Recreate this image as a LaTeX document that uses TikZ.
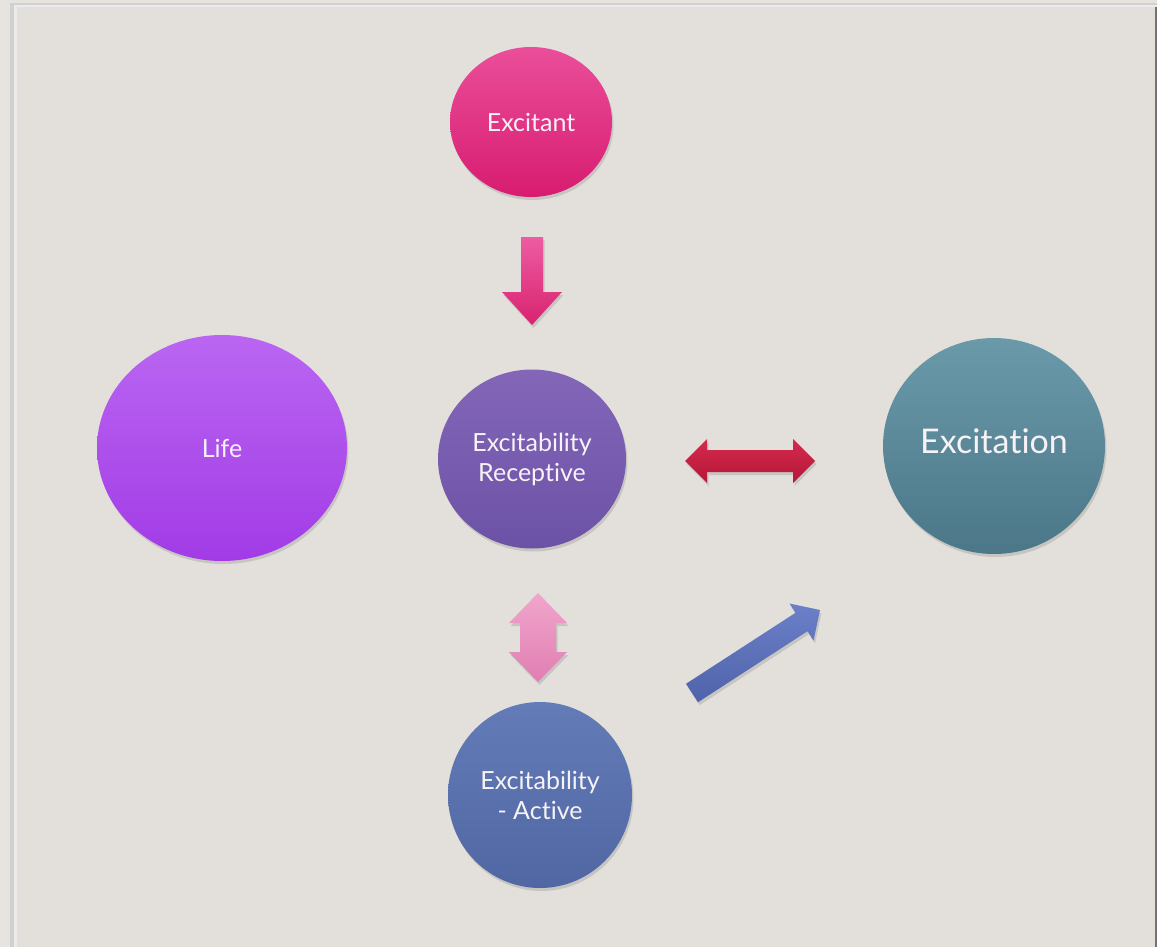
\documentclass[tikz,border=0pt]{standalone}
\usepackage{fontspec}
\setmainfont{Lato}[Ligatures={NoCommon}]
\usetikzlibrary{shapes.geometric,shadows}
\definecolor{outerbg}{HTML}{E7E4E0}
\definecolor{panelbg}{HTML}{E3E0DC}
\definecolor{excitantA}{HTML}{EA4E9A}
\definecolor{excitantB}{HTML}{D81C70}
\definecolor{lifeA}{HTML}{BA66F2}
\definecolor{lifeB}{HTML}{A23BE6}
\definecolor{recA}{HTML}{8366B8}
\definecolor{recB}{HTML}{6C52A6}
\definecolor{exctA}{HTML}{6A9AAA}
\definecolor{exctB}{HTML}{4B7788}
\definecolor{actA}{HTML}{637BB6}
\definecolor{actB}{HTML}{5067A3}
\definecolor{downA}{HTML}{EE5CA2}
\definecolor{downB}{HTML}{D8236F}
\definecolor{redA}{HTML}{D42A4C}
\definecolor{redB}{HTML}{B51638}
\definecolor{pinkA}{HTML}{F0A6CC}
\definecolor{pinkB}{HTML}{E07EB2}
\definecolor{blueA}{HTML}{6B80C8}
\definecolor{blueB}{HTML}{4F63AA}
\definecolor{txt}{HTML}{F6F2F6}
\tikzset{
  bubble/.style={ellipse, inner sep=0pt, text=txt, align=center,
    font=\fontsize{25}{30}\selectfont,
    drop shadow={shadow xshift=1.5pt, shadow yshift=-3pt, opacity=0.28}},
  blockarrow/.style={drop shadow={shadow xshift=1.5pt, shadow yshift=-3pt, opacity=0.28}},
}
\begin{document}
\begin{tikzpicture}[x=1pt,y=-1pt]
\useasboundingbox (0,0) rectangle (1157,947);
% background
\fill[outerbg] (0,0) rectangle (1157,947);
\fill[black!18] (10,3) rectangle (1157,947);
\fill[black!8] (14,5) rectangle (1157,947);
\fill[panelbg] (17,7) rectangle (1155,947);
\fill[black!55] (1155,7) rectangle (1157,947);

% nodes
\node[bubble, top color=excitantA, bottom color=excitantB,
  minimum width=162pt, minimum height=150pt] (excitant) at (531,122) {Excitant};
\node[bubble, top color=lifeA, bottom color=lifeB,
  minimum width=250pt, minimum height=226pt] (life) at (222,448) {Life};
\node[bubble, top color=recA, bottom color=recB,
  minimum width=188pt, minimum height=179pt] (receptive) at (532,459) {Excitability\\Receptive};
\node[bubble, top color=exctA, bottom color=exctB,
  minimum width=222pt, minimum height=216pt] (excitation) at (994,446) {};
\node[text=txt, font=\fontsize{34}{40}\selectfont] (excitationlabel) at (994,441) {Excitation};
\node[bubble, top color=actA, bottom color=actB,
  minimum width=184pt, minimum height=186pt] (active) at (540,795) {Excitability\\- Active};

% down arrow Excitant -> Receptive
\path[blockarrow, top color=downA, bottom color=downB]
  (521,237) -- (543,237) -- (543,292) -- (562,292) -- (532,325)
  -- (502,292) -- (521,292) -- cycle;

% red double arrow Receptive <-> Excitation
\path[blockarrow, top color=redA, bottom color=redB]
  (685,461) -- (707,439) -- (707,450) -- (793,450) -- (793,439) -- (815,461)
  -- (793,483) -- (793,472) -- (707,472) -- (707,483) -- cycle;

% pink double arrow Receptive <-> Active
\path[blockarrow, top color=pinkA, bottom color=pinkB]
  (538,593) -- (567,623) -- (556,623) -- (556,652) -- (567,652) -- (538,682)
  -- (509,652) -- (520,652) -- (520,623) -- (509,623) -- cycle;

% blue arrow Active -> Excitation
\path[blockarrow, top color=blueA, bottom color=blueB]
  (698.0,702.2) -- (807.5,631.2) -- (813.5,640.5) -- (820,610)
  -- (789.5,603.5) -- (795.5,612.8) -- (686.0,683.8) -- cycle;
\end{tikzpicture}
\end{document}
